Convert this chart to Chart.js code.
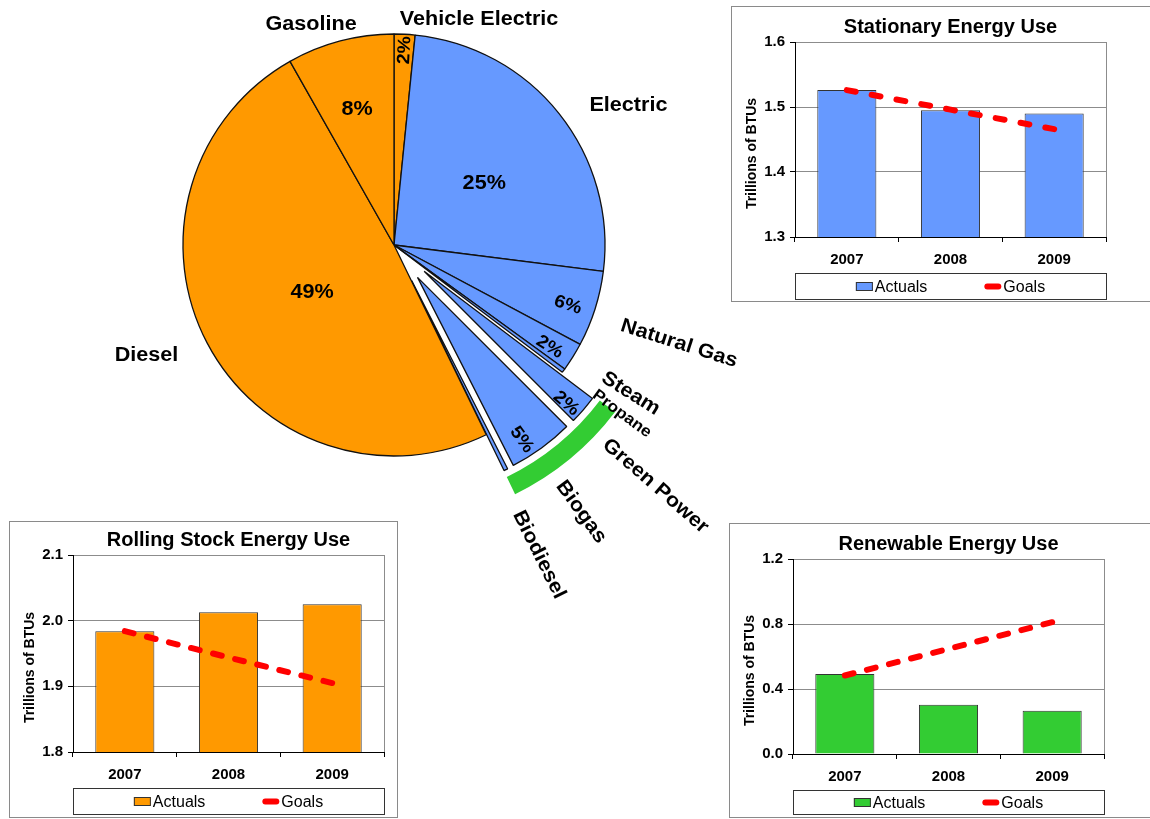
<!DOCTYPE html>
<html>
<head>
<meta charset="utf-8">
<title>Energy Use</title>
<script src="https://cdn.jsdelivr.net/npm/chart.js@4.4.1/dist/chart.umd.min.js"></script>
<style>
  body {
    margin: 0;
    width: 1150px;
    height: 819px;
    overflow: hidden;
    position: relative;
    background: #fff;
  }
  canvas, .box { position: absolute; }
  .box {
    box-sizing: border-box;
    border: 1.5px solid #8a8a8a;
    background: #fff;
  }
  #bandChart, #pieChart { left: 0; top: 0; }
</style>
</head>
<body>
<canvas id="bandChart" width="788" height="620"></canvas>
<canvas id="pieChart" width="788" height="620"></canvas>

<div class="box" style="left:731px;top:6px;width:440px;height:296px"></div>
<canvas id="stationaryChart" width="420" height="293" style="left:733px;top:8px"></canvas>

<div class="box" style="left:9px;top:521px;width:389px;height:297px"></div>
<canvas id="rollingChart" width="385" height="293" style="left:11px;top:523px"></canvas>

<div class="box" style="left:729px;top:523px;width:440px;height:295px"></div>
<canvas id="renewableChart" width="420" height="291" style="left:731px;top:525px"></canvas>

<script>
// pie: share of total energy use (%), clockwise from 12 o'clock
const pieLabels = ["Vehicle Electric", "Electric", "Natural Gas", "Steam", "Propane",
  "Green Power", "Biogas", "Biodiesel", "Diesel", "Gasoline"];
const pieShares = [1.6, 25.4, 5.8, 2.2, 0.3, 2.2, 5.0, 0.3, 49.0, 8.2];
const rollingSlices = ["Vehicle Electric", "Diesel", "Gasoline"];
const renewableSlices = ["Green Power", "Biogas", "Biodiesel"];

// bar charts
const years = ["2007", "2008", "2009"];
const stationaryActuals = [1.526, 1.495, 1.49];
const stationaryGoals = [1.526, 1.496, 1.466];
const stationaryTicks = [1.3, 1.4, 1.5, 1.6];
const rollingActuals = [1.984, 2.013, 2.025];
const rollingGoals = [1.984, 1.944, 1.905];
const rollingTicks = [1.8, 1.9, 2.0, 2.1];
const renewableActuals = [0.492, 0.303, 0.266];
const renewableGoals = [0.483, 0.647, 0.811];
const renewableTicks = [0.0, 0.4, 0.8, 1.2];
const yTitle = "Trillions of BTUs";

const orange = "#FF9900";
const blue = "#6699FF";
const green = "#33CC33";
const goalRed = "#FF0000";
const FONT = '"Liberation Sans", Arial, sans-serif';

Chart.defaults.font.family = FONT;
Chart.defaults.color = "#000";

const sum = (arr) => arr.reduce((a, b) => a + b, 0);

// ---------- pie ----------
const PIE_R = 211;
const EXPLODE = 40;
const BAND_IN = 258, BAND_OUT = 277;
const TEXT_STRETCH = 1.08;

// label placement, relative to each slice's middle angle (da in degrees)
const nameSpots = {
  "Vehicle Electric": { da: -1.4, r: 226, align: "left" },
  "Electric": { da: 7.7, r: 273 },
  "Natural Gas": { da: 1.8, r: 241, align: "left", radial: true },
  "Steam": { da: 0.1, r: 247, align: "left", radial: true },
  "Propane": { da: 0, r: 249, align: "left", radial: true, size: 16 },
  "Green Power": { da: 2, r: 289, align: "left", radial: true },
  "Biogas": { da: 1.1, r: 290, align: "left", radial: true },
  "Biodiesel": { da: 1.6, r: 294, align: "left", radial: true },
  "Diesel": { da: 3.7, r: 271 },
  "Gasoline": { da: -5.8, r: 236 },
};
const pctSpots = {
  "Vehicle Electric": { da: 0.3, r: 195, radial: true, size: 18 },
  "Electric": { da: 4.4, r: 109 },
  "Natural Gas": { da: 1.4, r: 184, radial: true, size: 18 },
  "Steam": { da: 1.2, r: 186, radial: true, size: 18 },
  "Green Power": { da: 1.9, r: 194, radial: true, size: 18 },
  "Biogas": { da: 3.3, r: 193, radial: true, size: 18 },
  "Diesel": { da: -2.6, r: 95 },
  "Gasoline": { da: -0.5, r: 140 },
};

function drawSpot(ctx, text, ox, oy, mid, spot) {
  const a = mid + spot.da * Math.PI / 180;
  ctx.save();
  ctx.translate(ox + Math.cos(a) * spot.r, oy + Math.sin(a) * spot.r);
  if (spot.radial) ctx.rotate(mid);
  ctx.scale(TEXT_STRETCH, 1);
  ctx.font = "bold " + (spot.size || 20) + "px " + FONT;
  ctx.fillStyle = "#000";
  ctx.textAlign = spot.align || "center";
  ctx.textBaseline = "middle";
  ctx.fillText(text, 0, 0);
  ctx.restore();
}

// pull the renewable slices out of the pie
const explodePlugin = {
  id: "explode",
  afterUpdate(chart) {
    chart.getDatasetMeta(0).data.forEach((arc, i) => {
      if (!renewableSlices.includes(pieLabels[i])) return;
      const mid = (arc.startAngle + arc.endAngle) / 2;
      arc.x += Math.cos(mid) * EXPLODE;
      arc.y += Math.sin(mid) * EXPLODE;
    });
  },
};

const pieText = {
  id: "pieText",
  afterDatasetsDraw(chart) {
    const { ctx, chartArea } = chart;
    const cx = (chartArea.left + chartArea.right) / 2;
    const cy = (chartArea.top + chartArea.bottom) / 2;
    const total = sum(pieShares);
    chart.getDatasetMeta(0).data.forEach((arc, i) => {
      const label = pieLabels[i];
      const mid = (arc.startAngle + arc.endAngle) / 2;
      drawSpot(ctx, label, cx, cy, mid, nameSpots[label]);
      if (pctSpots[label]) {
        const pct = Math.round((pieShares[i] * 100) / total) + "%";
        drawSpot(ctx, pct, arc.x, arc.y, mid, pctSpots[label]);
      }
    });
  },
};

new Chart(document.getElementById("pieChart"), {
  type: "pie",
  data: {
    labels: pieLabels,
    datasets: [{
      data: pieShares,
      backgroundColor: pieLabels.map((l) => (rollingSlices.includes(l) ? orange : blue)),
      borderColor: "#111",
      borderWidth: 1.3,
    }],
  },
  options: {
    responsive: false,
    animation: false,
    events: [],
    radius: PIE_R,
    layout: { padding: { bottom: 130 } },
    plugins: { legend: { display: false }, tooltip: { enabled: false } },
  },
  plugins: [explodePlugin, pieText],
});

// green band around the renewable slices
const firstRen = pieLabels.indexOf(renewableSlices[0]);
const lastRen = pieLabels.indexOf(renewableSlices[renewableSlices.length - 1]);
const bandShares = [
  sum(pieShares.slice(0, firstRen)),
  sum(pieShares.slice(firstRen, lastRen + 1)),
  sum(pieShares.slice(lastRen + 1)),
];

new Chart(document.getElementById("bandChart"), {
  type: "doughnut",
  data: {
    labels: ["", "Renewable", ""],
    datasets: [{
      data: bandShares,
      backgroundColor: ["rgba(0,0,0,0)", green, "rgba(0,0,0,0)"],
      borderWidth: 0,
    }],
  },
  options: {
    responsive: false,
    animation: false,
    events: [],
    radius: BAND_OUT,
    cutout: (BAND_IN / BAND_OUT) * 100 + "%",
    layout: { padding: { bottom: 130 } },
    plugins: { legend: { display: false }, tooltip: { enabled: false } },
  },
});

// ---------- bar charts ----------
// right edge of the plot frame plus the y-axis title (sits a bit below the plot middle)
const plotFrame = {
  id: "plotFrame",
  afterDatasetsDraw(chart) {
    const { ctx, chartArea } = chart;
    const x = Math.round(chartArea.right) + 0.5;
    ctx.save();
    ctx.strokeStyle = "#8c8c8c";
    ctx.lineWidth = 1;
    ctx.beginPath();
    ctx.moveTo(x, chartArea.top);
    ctx.lineTo(x, chartArea.bottom);
    ctx.stroke();

    ctx.translate(chart.scales.y.left + 19, (chartArea.top + chartArea.bottom) / 2 + 14);
    ctx.rotate(-Math.PI / 2);
    ctx.font = "bold 14px " + FONT;
    ctx.fillStyle = "#000";
    ctx.textAlign = "center";
    ctx.textBaseline = "middle";
    ctx.fillText(yTitle, 0, 0);
    ctx.restore();
  },
};

// boxed legend spanning the plot width
const boxLegend = {
  id: "boxLegend",
  afterDraw(chart) {
    const { ctx, chartArea } = chart;
    const top = Math.round(chart.scales.x.bottom) + 0.5;
    const bottom = chart.height - 1.5;
    ctx.save();
    ctx.strokeStyle = "#333";
    ctx.lineWidth = 1;
    ctx.strokeRect(Math.round(chartArea.left) + 0.5, top,
      Math.round(chartArea.right - chartArea.left), bottom - top);

    const dsets = chart.data.datasets;
    const items = [dsets.find((d) => d.type === "bar"), dsets.find((d) => d.type === "line")];
    ctx.font = "16px " + FONT;
    ctx.textBaseline = "middle";
    const markW = 17, gap = 2, spacing = 57;
    const widths = items.map((d) => markW + gap + ctx.measureText(d.label).width);
    const total = sum(widths) + spacing * (items.length - 1);
    let x = (chartArea.left + chartArea.right) / 2 - total / 2;
    const y = (top + bottom) / 2;
    items.forEach((d, i) => {
      if (d.type === "line") {
        ctx.strokeStyle = d.borderColor;
        ctx.lineWidth = d.borderWidth;
        ctx.lineCap = "round";
        ctx.beginPath();
        ctx.moveTo(x + 3, y);
        ctx.lineTo(x + markW - 3, y);
        ctx.stroke();
      } else {
        ctx.fillStyle = d.backgroundColor;
        ctx.fillRect(x, y - 4.5, markW, 9);
        ctx.strokeStyle = "#333";
        ctx.lineWidth = 1;
        ctx.strokeRect(x + 0.5, y - 4, markW - 1, 8);
      }
      ctx.fillStyle = "#000";
      ctx.fillText(d.label, x + markW + gap, y + 1);
      x += widths[i] + spacing;
    });
    ctx.restore();
  },
};

// stretch the dash gaps a little so the goal line starts and ends on a dash
function fitDash(chart, goals) {
  const DASH = 9, PERIOD = 24;
  const { x, y } = chart.scales;
  if (!x || !y) return [DASH, PERIOD - DASH];
  const dx = x.getPixelForValue(goals.length - 1) - x.getPixelForValue(0);
  const dy = y.getPixelForValue(goals[goals.length - 1]) - y.getPixelForValue(goals[0]);
  const len = Math.hypot(dx, dy);
  if (!isFinite(len) || len < PERIOD) return [DASH, PERIOD - DASH];
  const n = Math.max(1, Math.round((len - DASH) / PERIOD));
  return [DASH, (len - DASH) / n - DASH];
}

function energyChart(id, title, color, actuals, goals, ticks, pad) {
  return new Chart(document.getElementById(id), {
    type: "bar",
    data: {
      labels: years,
      datasets: [
        {
          type: "line",
          label: "Goals",
          data: goals,
          borderColor: goalRed,
          borderWidth: 6,
          borderDash: (c) => fitDash(c.chart, goals),
          borderCapStyle: "round",
          pointRadius: 0,
          fill: false,
          order: 0,
        },
        {
          type: "bar",
          label: "Actuals",
          data: actuals,
          backgroundColor: color,
          borderColor: "#333",
          borderWidth: 1,
          barPercentage: 0.57,
          categoryPercentage: 1,
          order: 1,
        },
      ],
    },
    options: {
      responsive: false,
      animation: false,
      events: [],
      layout: { padding: pad },
      plugins: {
        legend: { display: false },
        tooltip: { enabled: false },
        title: {
          display: true,
          text: title,
          fullSize: false,
          color: "#000",
          font: { size: 20, weight: "bold" },
          padding: { top: 0, bottom: 3 },
        },
      },
      scales: {
        x: {
          ticks: { color: "#000", font: { size: 15, weight: "bold" }, padding: 9, maxRotation: 0 },
          grid: { offset: true, drawOnChartArea: false, tickLength: 5, color: "#000" },
          border: { color: "#000", width: 1 },
          afterFit: (s) => { s.height = 36; },
        },
        y: {
          min: ticks[0],
          max: ticks[ticks.length - 1],
          ticks: {
            stepSize: ticks[1] - ticks[0],
            color: "#000",
            font: { size: 15, weight: "bold" },
            padding: 5,
            callback: (v) => Number(v).toFixed(1),
          },
          grid: { color: "#8c8c8c", tickColor: "#000", tickLength: 5 },
          border: { color: "#000", width: 1 },
          afterFit: (s) => { s.width = 62; },
        },
      },
    },
    plugins: [plotFrame, boxLegend],
  });
}

energyChart("stationaryChart", "Stationary Energy Use", blue,
  stationaryActuals, stationaryGoals, stationaryTicks,
  { left: 0, right: 47, top: 7, bottom: 28 });
energyChart("rollingChart", "Rolling Stock Energy Use", orange,
  rollingActuals, rollingGoals, rollingTicks,
  { left: 0, right: 12, top: 5, bottom: 28 });
energyChart("renewableChart", "Renewable Energy Use", green,
  renewableActuals, renewableGoals, renewableTicks,
  { left: 0, right: 47, top: 7, bottom: 26 });
</script>
</body>
</html>
